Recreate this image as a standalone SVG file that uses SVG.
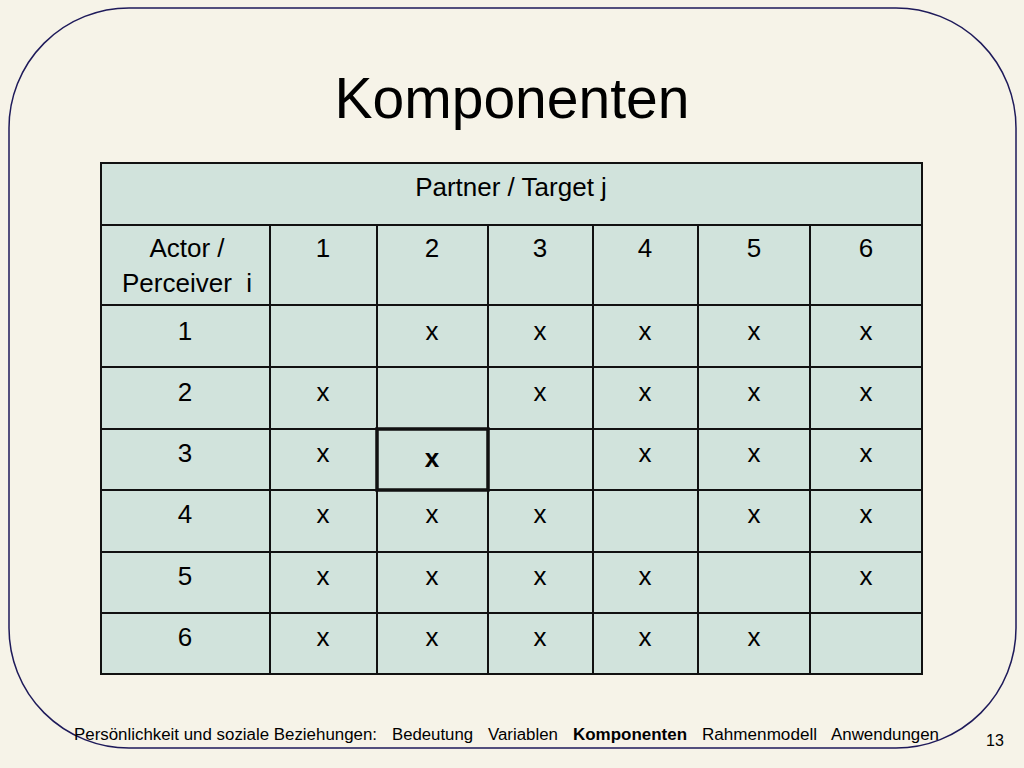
<svg xmlns="http://www.w3.org/2000/svg" width="1024" height="768" viewBox="0 0 1024 768">
<style>
.t{font-family:"Liberation Sans",Arial,sans-serif;font-size:26px;text-anchor:middle;fill:#000}
.f{font-family:"Liberation Sans",Arial,sans-serif;font-size:16px;fill:#000}
line{stroke:#111;stroke-width:2}
</style>
<rect width="1024" height="768" fill="#f6f3e8"/>
<rect x="9" y="8" width="1007" height="740" rx="120" ry="120" fill="none" stroke="#1e1a5a" stroke-width="1.5"/>
<text x="512" y="118" font-family="Liberation Sans,Arial,sans-serif" font-size="57" text-anchor="middle">Komponenten</text>
<g id="table">
<rect x="101" y="163" width="821" height="511" fill="#d1e3dc" stroke="#111" stroke-width="2"/>
<g>
<line x1="101" y1="225" x2="922" y2="225"/>
<line x1="101" y1="305" x2="922" y2="305"/>
<line x1="101" y1="367" x2="922" y2="367"/>
<line x1="101" y1="429" x2="922" y2="429"/>
<line x1="101" y1="490" x2="922" y2="490"/>
<line x1="101" y1="552" x2="922" y2="552"/>
<line x1="101" y1="613" x2="922" y2="613"/>
<line x1="270" y1="225" x2="270" y2="674"/>
<line x1="377" y1="225" x2="377" y2="674"/>
<line x1="488" y1="225" x2="488" y2="674"/>
<line x1="593" y1="225" x2="593" y2="674"/>
<line x1="698" y1="225" x2="698" y2="674"/>
<line x1="810" y1="225" x2="810" y2="674"/>
</g>
<rect x="377" y="429" width="111" height="61" fill="none" stroke="#111" stroke-width="3.5"/>
<text class="t" x="511" y="196">Partner / Target j</text>
<text class="t" x="187" y="257">Actor /</text>
<text class="t" x="187" y="292" xml:space="preserve">Perceiver  i</text>
<g class="t">
<text class="t" x="323" y="257">1</text><text class="t" x="432" y="257">2</text><text class="t" x="540" y="257">3</text><text class="t" x="645" y="257">4</text><text class="t" x="754" y="257">5</text><text class="t" x="866" y="257">6</text>
<text class="t" x="185" y="340">1</text><text class="t" x="432" y="340">x</text><text class="t" x="540" y="340">x</text><text class="t" x="645" y="340">x</text><text class="t" x="754" y="340">x</text><text class="t" x="866" y="340">x</text>
<text class="t" x="185" y="401">2</text><text class="t" x="323" y="401">x</text><text class="t" x="540" y="401">x</text><text class="t" x="645" y="401">x</text><text class="t" x="754" y="401">x</text><text class="t" x="866" y="401">x</text>
<text class="t" x="185" y="462">3</text><text class="t" x="323" y="462">x</text><text class="t" x="432" y="467" font-weight="bold" font-size="34">x</text><text class="t" x="645" y="462">x</text><text class="t" x="754" y="462">x</text><text class="t" x="866" y="462">x</text>
<text class="t" x="185" y="523">4</text><text class="t" x="323" y="523">x</text><text class="t" x="432" y="523">x</text><text class="t" x="540" y="523">x</text><text class="t" x="754" y="523">x</text><text class="t" x="866" y="523">x</text>
<text class="t" x="185" y="585">5</text><text class="t" x="323" y="585">x</text><text class="t" x="432" y="585">x</text><text class="t" x="540" y="585">x</text><text class="t" x="645" y="585">x</text><text class="t" x="866" y="585">x</text>
<text class="t" x="185" y="646">6</text><text class="t" x="323" y="646">x</text><text class="t" x="432" y="646">x</text><text class="t" x="540" y="646">x</text><text class="t" x="645" y="646">x</text><text class="t" x="754" y="646">x</text>
</g>
</g>
<g id="footer">
<text class="f" x="74" y="740" textLength="303" lengthAdjust="spacingAndGlyphs">Persönlichkeit und soziale Beziehungen:</text>
<text class="f" x="392" y="740" textLength="81" lengthAdjust="spacingAndGlyphs">Bedeutung</text>
<text class="f" x="488" y="740" textLength="70" lengthAdjust="spacingAndGlyphs">Variablen</text>
<text class="f" x="573" y="740" font-weight="bold" fill="#1a2a5a" textLength="114" lengthAdjust="spacingAndGlyphs">Komponenten</text>
<text class="f" x="702" y="740" textLength="115" lengthAdjust="spacingAndGlyphs">Rahmenmodell</text>
<text class="f" x="831" y="740" textLength="108" lengthAdjust="spacingAndGlyphs">Anwendungen</text>
<text class="f" x="986" y="746" font-size="12">13</text>
</g>
</svg>
